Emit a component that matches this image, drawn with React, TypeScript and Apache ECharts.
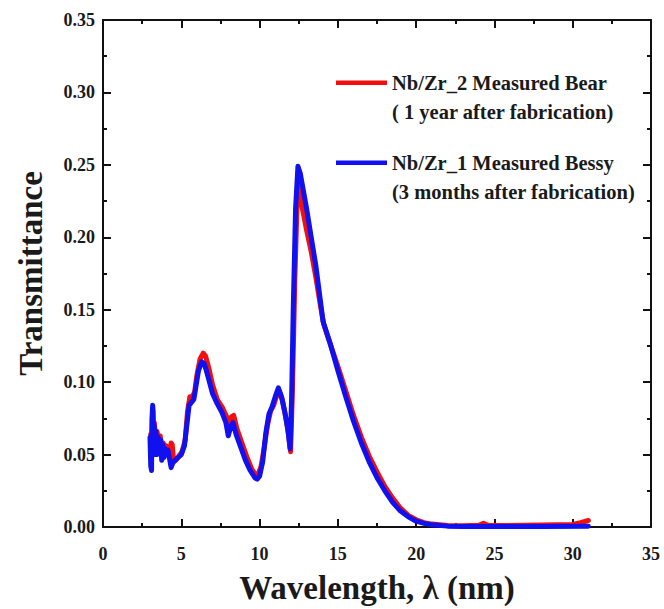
import React, { useEffect, useRef } from "react";
import * as echarts from "echarts";

// Nb/Zr_1 Measured Bessy (blue)
const blueWavelength = [
  3.0, 3.05, 3.1, 3.13, 3.17, 3.2, 3.23, 3.27, 3.32, 3.38, 3.45, 3.52, 3.6, 3.68, 3.75, 3.82, 3.9, 3.98,
  4.05, 4.15, 4.25, 4.35, 4.45, 4.6, 4.8, 5.0, 5.2, 5.35, 5.5, 5.65, 5.8, 5.95, 6.1, 6.3, 6.45, 6.6, 6.8,
  7.0, 7.3, 7.6, 7.85, 8.0, 8.15, 8.3, 8.5, 8.8, 9.1, 9.4, 9.7, 9.85, 10.0, 10.2, 10.4, 10.6, 10.8, 11.0,
  11.2, 11.4, 11.6, 11.8, 11.95, 12.05, 12.15, 12.3, 12.45, 12.6, 12.8, 13.0, 13.3, 13.6, 13.9, 14.05,
  14.2, 14.5, 15.0, 15.5, 16.0, 16.5, 17.0, 17.5, 18.0, 18.5, 19.0, 19.5, 20.0, 20.5, 21.0, 22.0, 23.0,
  25.0, 28.0, 31.0,
];
const blueTransmittance = [
  0.062, 0.042, 0.039, 0.075, 0.084, 0.08, 0.05, 0.07, 0.058, 0.066, 0.05, 0.062, 0.055, 0.06, 0.046,
  0.057, 0.048, 0.054, 0.05, 0.053, 0.047, 0.041, 0.044, 0.046, 0.048, 0.05, 0.056, 0.07, 0.084, 0.086,
  0.088, 0.098, 0.108, 0.114, 0.113, 0.108, 0.1, 0.092, 0.085, 0.079, 0.072, 0.063, 0.069, 0.072, 0.064,
  0.055, 0.046, 0.039, 0.034, 0.033, 0.035, 0.045, 0.065, 0.078, 0.083, 0.09, 0.096, 0.09, 0.08, 0.068,
  0.054, 0.09, 0.15, 0.22, 0.249, 0.244, 0.232, 0.22, 0.2, 0.18, 0.155, 0.142, 0.137, 0.127, 0.108, 0.09,
  0.073, 0.058, 0.045, 0.034, 0.025, 0.017, 0.011, 0.007, 0.004, 0.0025, 0.0015, 0.0006, 0.0004, 0.0004,
  0.0004, 0.0005,
];

// Nb/Zr_2 Measured Bear (red)
const redWavelength = [
  3.05, 3.12, 3.17, 3.22, 3.28, 3.35, 3.45, 3.55, 3.65, 3.75, 3.85, 3.95, 4.05, 4.15, 4.25, 4.35, 4.42,
  4.5, 4.65, 4.85, 5.05, 5.25, 5.4, 5.55, 5.7, 5.85, 6.0, 6.2, 6.4, 6.55, 6.75, 7.0, 7.3, 7.6, 7.9, 8.05,
  8.2, 8.35, 8.55, 8.9, 9.2, 9.5, 9.75, 9.9, 10.1, 10.3, 10.5, 10.7, 10.9, 11.1, 11.25, 11.45, 11.65,
  11.85, 11.98, 12.1, 12.25, 12.4, 12.5, 12.7, 13.0, 13.3, 13.6, 13.9, 14.1, 14.4, 15.0, 15.5, 16.0, 16.5,
  17.0, 17.5, 18.0, 18.5, 19.0, 19.5, 20.0, 20.5, 21.0, 22.0, 23.0, 24.0, 24.3, 24.6, 25.5, 27.0, 29.0,
  30.0, 30.5, 31.0,
];
const redTransmittance = [
  0.064, 0.062, 0.08, 0.068, 0.072, 0.062, 0.066, 0.06, 0.063, 0.056, 0.058, 0.052, 0.056, 0.052, 0.05,
  0.058, 0.057, 0.047, 0.046, 0.049, 0.052, 0.06, 0.08, 0.09, 0.09, 0.093, 0.105, 0.116, 0.12, 0.118,
  0.11, 0.098, 0.088, 0.083, 0.076, 0.069, 0.076, 0.077, 0.068, 0.057, 0.048, 0.04, 0.036, 0.036, 0.042,
  0.055, 0.07, 0.08, 0.084, 0.091, 0.094, 0.088, 0.077, 0.064, 0.052, 0.095, 0.17, 0.225, 0.238, 0.222,
  0.205, 0.19, 0.172, 0.152, 0.14, 0.13, 0.111, 0.094, 0.077, 0.062, 0.049, 0.038, 0.028, 0.02, 0.013,
  0.008, 0.005, 0.003, 0.002, 0.001, 0.0008, 0.0012, 0.0025, 0.0012, 0.001, 0.0012, 0.0015, 0.0018,
  0.003, 0.0045,
];

const redName = "Nb/Zr_2 Measured Bear\n( 1 year after fabrication)";
const blueName = "Nb/Zr_1 Measured Bessy\n(3 months after fabrication)";

const xTitle = "Wavelength, λ (nm)";
const yTitle = "Transmittance";

const FONT = "'Liberation Serif', 'Times New Roman', serif";

function zip(xs: number[], ys: number[]) {
  return xs.map((x, i) => [x, ys[i]]);
}

export default function App() {
  const ref = useRef<HTMLDivElement>(null);
  useEffect(() => {
    if (!ref.current) return;
    const chart = echarts.init(ref.current, null, { renderer: "svg" });
    const axisLine = { show: true, onZero: false, lineStyle: { color: "#111", width: 2 } };
    const axisTick = { show: true, inside: true, length: 8, lineStyle: { color: "#111", width: 2 } };
    const minorTick = { show: true, splitNumber: 2, length: 4, lineStyle: { color: "#111", width: 2 } };
    const labelStyle = { fontFamily: FONT, fontWeight: "bold" as const, fontSize: 18, color: "#1a1a1a" };
    const xBase = { type: "value" as const, min: 0, max: 35, interval: 5, splitLine: { show: false }, axisLine, axisTick, minorTick };
    const yBase = { type: "value" as const, min: 0, max: 0.35, interval: 0.05, splitLine: { show: false }, axisLine, axisTick, minorTick };
    const legendIcon = "path://M0,0L51,0L51,4.5L0,4.5Z M0,32.9L0.1,32.9L0.1,33L0,33Z";
    chart.setOption({
      animation: false,
      backgroundColor: "#fff",
      grid: { left: 103, right: 13, top: 20, bottom: 80, containLabel: false },
      legend: {
        show: true,
        orient: "vertical",
        left: 336,
        top: 68,
        padding: 0,
        itemGap: 22,
        itemWidth: 51,
        itemHeight: 33,
        icon: legendIcon,
        data: [redName, blueName],
        textStyle: { fontFamily: FONT, fontWeight: "bold", fontSize: 20.5, lineHeight: 29, color: "#1a1a1a" },
      },
      xAxis: [
        {
          ...xBase,
          position: "bottom",
          axisLabel: { ...labelStyle, margin: 18 },
          name: xTitle,
          nameLocation: "middle",
          nameGap: 44,
          nameTextStyle: { fontFamily: FONT, fontWeight: "bold", fontSize: 33, color: "#1a1a1a" },
        },
        { ...xBase, position: "top", axisLabel: { show: false } },
      ],
      yAxis: [
        {
          ...yBase,
          position: "left",
          axisLabel: { ...labelStyle, margin: 8, formatter: (v: number) => v.toFixed(2) },
          name: yTitle,
          nameLocation: "middle",
          nameGap: 56,
          nameTextStyle: { fontFamily: FONT, fontWeight: "bold", fontSize: 33, color: "#1a1a1a" },
        },
        { ...yBase, position: "right", axisLabel: { show: false } },
      ],
      series: [
        {
          name: redName,
          type: "line",
          data: zip(redWavelength, redTransmittance),
          showSymbol: false,
          symbol: "none",
          color: "#f01010",
          lineStyle: { color: "#f01010", width: 5, cap: "round", join: "round" },
          z: 2,
        },
        {
          name: blueName,
          type: "line",
          data: zip(blueWavelength, blueTransmittance),
          showSymbol: false,
          symbol: "none",
          color: "#1010f0",
          lineStyle: { color: "#1010f0", width: 5, cap: "round", join: "round" },
          z: 3,
        },
      ],
    });
    return () => chart.dispose();
  }, []);
  return (
    <div
      ref={ref}
      style={{ position: "fixed", left: 0, top: 0, width: 664, height: 609, background: "#fff" }}
    />
  );
}
